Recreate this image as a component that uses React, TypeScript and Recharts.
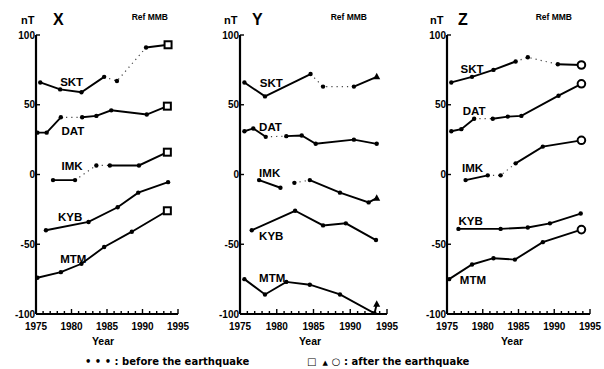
import { ComposedChart, Line, XAxis, YAxis, ReferenceDot } from "recharts";

type Pt = [number, number];

// year ticks and value ticks shared by the three panels
const YEARS = Array.from({ length: 21 }, (_, i) => 1975 + i);
const VALUE_TICKS = [-100, -50, 0, 50, 100];

// segment codes between consecutive points: s = solid, d = dotted, n = gap

// --- X component ---
const X_SKT: Pt[] = [[1975.6, 66], [1978.4, 61], [1981.4, 59], [1984.6, 70], [1986.4, 67], [1990.5, 91], [1993.6, 93]];
const X_SKT_SEG = "sssdds";
const X_DAT: Pt[] = [[1975.2, 30], [1976.5, 30], [1978.5, 41], [1981.5, 41], [1983.5, 42], [1985.6, 46], [1990.6, 43], [1993.5, 49]];
const X_DAT_SEG = "ssdssss";
const X_IMK: Pt[] = [[1977.4, -4], [1980.5, -4], [1983.5, 6.5], [1985.4, 6.5], [1989.5, 6.5], [1993.5, 16]];
const X_IMK_SEG = "sddss";
const X_KYB: Pt[] = [[1976.4, -40], [1982.4, -34], [1986.5, -23.5], [1989.4, -13], [1993.6, -5.5]];
const X_KYB_SEG = "ssss";
const X_MTM: Pt[] = [[1975.2, -74], [1978.5, -70], [1981.4, -64], [1984.6, -52], [1988.5, -41], [1993.5, -26]];
const X_MTM_SEG = "sssss";

// --- Y component ---
const Y_SKT: Pt[] = [[1975.6, 66], [1978.4, 56], [1984.6, 72], [1986.3, 63], [1990.5, 63], [1993.6, 70]];
const Y_SKT_SEG = "ssdds";
const Y_DAT: Pt[] = [[1975.6, 31], [1976.8, 33], [1978.5, 27], [1981.3, 27.5], [1983.4, 28], [1985.3, 22], [1990.5, 25], [1993.6, 22]];
const Y_DAT_SEG = "ssdssss";
const Y_IMK: Pt[] = [[1977.6, -4], [1980.5, -9.5], [1982.4, -6], [1984.5, -4], [1988.6, -13], [1992.5, -20], [1993.6, -17]];
const Y_IMK_SEG = "sndsss";
const Y_KYB: Pt[] = [[1976.6, -40], [1982.5, -26], [1986.3, -36.5], [1989.4, -35], [1993.5, -47]];
const Y_KYB_SEG = "ssss";
const Y_MTM: Pt[] = [[1975.6, -75], [1978.4, -86], [1981.3, -77], [1984.5, -79], [1988.6, -86], [1993.3, -99.5], [1993.6, -93]];
const Y_MTM_SEG = "ssssss";

// --- Z component ---
const Z_SKT: Pt[] = [[1975.6, 66], [1978.5, 70], [1981.5, 75], [1984.6, 81], [1986.3, 84], [1990.5, 79], [1993.8, 78.5]];
const Z_SKT_SEG = "sssdds";
const Z_DAT: Pt[] = [[1975.6, 31], [1977, 32.5], [1978.8, 40], [1981.4, 40], [1983.5, 41.5], [1985.4, 42], [1990.6, 56.5], [1993.8, 65]];
const Z_DAT_SEG = "ssdssss";
const Z_IMK: Pt[] = [[1977.6, -4], [1980.7, -0.6], [1982.5, -0.6], [1984.6, 8], [1988.4, 20], [1993.8, 24.5]];
const Z_IMK_SEG = "sddss";
const Z_KYB: Pt[] = [[1976.6, -39], [1982.5, -39], [1986.3, -38], [1989.4, -35], [1993.7, -28]];
const Z_KYB_SEG = "ssss";
const Z_MTM: Pt[] = [[1975.3, -75], [1978.5, -64.5], [1981.5, -60], [1984.5, -61], [1988.4, -48.5], [1993.8, -39.5]];
const Z_MTM_SEG = "sssss";

const STATION_NAMES = ["SKT", "DAT", "IMK", "KYB", "MTM"];
// which stations end with the "after the earthquake" symbol
const X_HAS_END = [true, true, true, false, true];
const Y_HAS_END = [true, false, true, false, true];
const Z_HAS_END = [true, true, true, false, true];

// label anchors (year, value) for station names
const X_LABELS: Pt[] = [[1978.4, 66.5], [1978.6, 31.5], [1978.6, 6], [1978.1, -30.5], [1978.4, -60.5]];
const Y_LABELS: Pt[] = [[1977.7, 65.3], [1977.6, 33.7], [1977.6, 1], [1977.6, -44], [1977.6, -74]];
const Z_LABELS: Pt[] = [[1976.9, 75.4], [1977.2, 45.4], [1977.1, 5], [1976.6, -33], [1976.8, -75.6]];

const FONT = "'Liberation Sans', Arial, sans-serif";
const WIDE = "'DejaVu Sans', sans-serif";

type Panel = {
  title: string;
  left: number;
  width: number;
  yAxisW: number;
  rightM: number;
  mark: "square" | "triangle" | "circle";
  series: Pt[][];
  segs: string[];
  ends: boolean[];
  labels: Pt[];
};

const PANELS: Panel[] = [
  {
    title: "X", left: 0, width: 192, yAxisW: 36, rightM: 14, mark: "square",
    series: [X_SKT, X_DAT, X_IMK, X_KYB, X_MTM],
    segs: [X_SKT_SEG, X_DAT_SEG, X_IMK_SEG, X_KYB_SEG, X_MTM_SEG],
    ends: X_HAS_END, labels: X_LABELS,
  },
  {
    title: "Y", left: 200, width: 202, yAxisW: 40, rightM: 15, mark: "triangle",
    series: [Y_SKT, Y_DAT, Y_IMK, Y_KYB, Y_MTM],
    segs: [Y_SKT_SEG, Y_DAT_SEG, Y_IMK_SEG, Y_KYB_SEG, Y_MTM_SEG],
    ends: Y_HAS_END, labels: Y_LABELS,
  },
  {
    title: "Z", left: 405, width: 199, yAxisW: 42, rightM: 14, mark: "circle",
    series: [Z_SKT, Z_DAT, Z_IMK, Z_KYB, Z_MTM],
    segs: [Z_SKT_SEG, Z_DAT_SEG, Z_IMK_SEG, Z_KYB_SEG, Z_MTM_SEG],
    ends: Z_HAS_END, labels: Z_LABELS,
  },
];

function segmentData(pts: Pt[], seg: string, kind: string) {
  const out: { yr: number; v: number | null }[] = [];
  pts.forEach((p, i) => {
    out.push({ yr: p[0], v: p[1] });
    if (i < pts.length - 1 && seg[i] !== kind) {
      out.push({ yr: (p[0] + pts[i + 1][0]) / 2, v: null });
    }
  });
  return out;
}

function makeMarker(mark: string) {
  return (props: any) => {
    const { cx, cy, payload, index } = props;
    if (cx == null || cy == null) return <g key={`m${index}`} />;
    if (payload.end) {
      if (mark === "square")
        return <rect key={`m${index}`} x={cx - 3.5} y={cy - 3.5} width={7} height={7} fill="#fff" stroke="#000" strokeWidth={2} />;
      if (mark === "triangle")
        return <path key={`m${index}`} d={`M${cx},${cy - 4} L${cx + 3.5},${cy + 2.5} L${cx - 3.5},${cy + 2.5} Z`} fill="#000" />;
      return <circle key={`m${index}`} cx={cx} cy={cy} r={3.8} fill="#fff" stroke="#000" strokeWidth={2} />;
    }
    return <circle key={`m${index}`} cx={cx} cy={cy} r={2.2} fill="#000" />;
  };
}

function BottomTick(props: any) {
  const { x, y, payload } = props;
  const yr = payload.value;
  const major = yr % 5 === 0;
  return (
    <g>
      <line x1={x} x2={x} y1={y} y2={y - (major ? 5 : 3)} stroke="#000" strokeWidth={1.4} />
      {major && (
        <text x={x} y={y + 16} textAnchor="middle" fontSize={10} fontWeight="bold" fontFamily={FONT} fill="#000">
          {yr}
        </text>
      )}
    </g>
  );
}

function TopTick(props: any) {
  const { x, y, payload } = props;
  const major = payload.value % 5 === 0;
  return <line x1={x} x2={x} y1={y} y2={y + (major ? 5 : 3)} stroke="#000" strokeWidth={1.4} />;
}

function LeftTick(props: any) {
  const { x, y, payload } = props;
  return (
    <g>
      <line x1={x} x2={x + 4} y1={y} y2={y} stroke="#000" strokeWidth={1.4} />
      <text x={x - 1} y={y + 3.5} textAnchor="end" fontSize={10} fontWeight="bold" fontFamily={FONT} fill="#000">
        {payload.value}
      </text>
    </g>
  );
}

function PanelChart({ panel }: { panel: Panel }) {
  const marker = makeMarker(panel.mark);
  return (
    <div style={{ position: "absolute", left: panel.left, top: 0 }}>
      <ComposedChart
        width={panel.width}
        height={336}
        margin={{ top: 35, right: panel.rightM, left: 0, bottom: 2 }}
      >
        <XAxis
          dataKey="yr"
          type="number"
          domain={[1975, 1995]}
          ticks={YEARS}
          interval={0}
          height={20}
          tickSize={0}
          tickMargin={0}
          tickLine={false}
          tick={<BottomTick />}
          axisLine={{ stroke: "#000", strokeWidth: 2.2 }}
          allowDataOverflow
        />
        <XAxis
          xAxisId="top"
          orientation="top"
          dataKey="yr"
          type="number"
          domain={[1975, 1995]}
          ticks={YEARS}
          interval={0}
          height={0}
          tickSize={0}
          tickMargin={0}
          tickLine={false}
          tick={<TopTick />}
          axisLine={{ stroke: "#000", strokeWidth: 2.2 }}
        />
        <YAxis
          type="number"
          domain={[-100, 100]}
          ticks={VALUE_TICKS}
          interval={0}
          width={panel.yAxisW}
          tickSize={0}
          tickMargin={0}
          tickLine={false}
          tick={<LeftTick />}
          axisLine={{ stroke: "#000", strokeWidth: 2.2 }}
          allowDataOverflow
        />
        <YAxis
          yAxisId="right"
          orientation="right"
          type="number"
          domain={[-100, 100]}
          width={0}
          tick={false}
          tickLine={false}
          axisLine={{ stroke: "#000", strokeWidth: 2.2 }}
        />
        {panel.series.map((pts, i) => (
          <Line
            key={`s${i}`}
            data={segmentData(pts, panel.segs[i], "s")}
            dataKey="v"
            stroke="#000"
            strokeWidth={1.9}
            dot={false}
            activeDot={false}
            connectNulls={false}
            isAnimationActive={false}
          />
        ))}
        {panel.series.map((pts, i) => (
          <Line
            key={`d${i}`}
            data={segmentData(pts, panel.segs[i], "d")}
            dataKey="v"
            stroke="#444"
            strokeWidth={1.2}
            strokeDasharray="1.2 4"
            dot={false}
            activeDot={false}
            connectNulls={false}
            isAnimationActive={false}
          />
        ))}
        {panel.series.map((pts, i) => (
          <Line
            key={`m${i}`}
            data={pts.map((p, j) => ({
              yr: p[0],
              v: p[1],
              end: panel.ends[i] && j === pts.length - 1,
            }))}
            dataKey="v"
            stroke="none"
            dot={marker}
            activeDot={false}
            isAnimationActive={false}
          />
        ))}
        {panel.labels.map((p, i) => (
          <ReferenceDot
            key={`l${i}`}
            x={p[0]}
            y={p[1]}
            r={0}
            shape={(sp: any) => (
              <text x={sp.cx} y={sp.cy + 4} fontSize={11.5} fontWeight="bold" fontFamily={FONT} fill="#000">
                {STATION_NAMES[i]}
              </text>
            )}
          />
        ))}
      </ComposedChart>
    </div>
  );
}

const TITLE_POS = [
  { nT: 21, letter: 53, ref: 168, year: 103 },
  { nT: 224, letter: 252, ref: 367, year: 310 },
  { nT: 430, letter: 458, ref: 572, year: 512 },
];

export default function App() {
  const txt = { fontFamily: FONT, fontWeight: "bold" as const, fill: "#000" };
  const wide = { fontFamily: WIDE, fontWeight: "bold" as const, fill: "#000" };
  return (
    <div style={{ position: "absolute", left: 0, top: 0, width: 604, height: 369, background: "#fff" }}>
      {PANELS.map((p) => (
        <PanelChart key={p.title} panel={p} />
      ))}
      <svg width={604} height={369} style={{ position: "absolute", left: 0, top: 0, pointerEvents: "none" }}>
        {PANELS.map((p, i) => (
          <g key={p.title}>
            <text x={TITLE_POS[i].nT} y={24} fontSize={11} {...txt}>nT</text>
            <text x={TITLE_POS[i].letter} y={25} fontSize={16} {...txt}>{p.title}</text>
            <text x={TITLE_POS[i].ref} y={20} fontSize={8.5} textAnchor="end" {...txt}>Ref MMB</text>
            <text x={TITLE_POS[i].year} y={345} fontSize={10.5} textAnchor="middle" {...txt}>Year</text>
          </g>
        ))}
        <text x={85} y={365} fontSize={10} {...wide}>
          • • • : before the earthquake
        </text>
        <text x={307} y={365} fontSize={10} {...wide}>
          <tspan>□</tspan>
          <tspan dx={6} fontSize={7}>▲</tspan>
          <tspan dx={4}>○</tspan>
          <tspan> : after the earthquake</tspan>
        </text>
      </svg>
    </div>
  );
}
